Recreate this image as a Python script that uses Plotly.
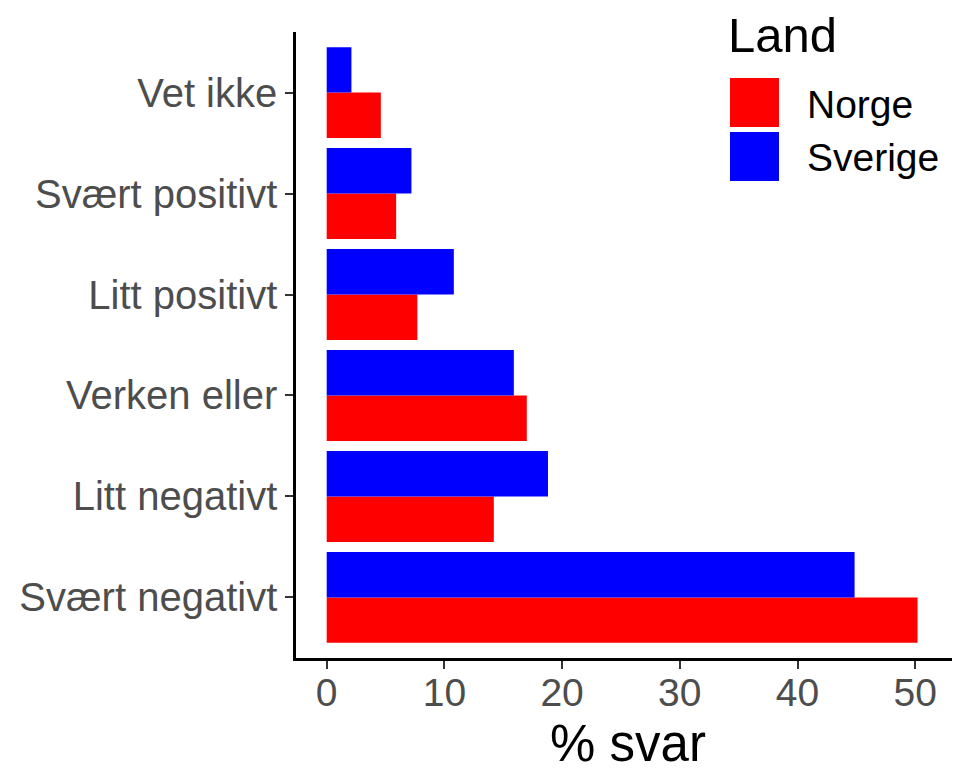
import plotly.graph_objects as go

categories = ["Svært negativt", "Litt negativt", "Verken eller",
              "Litt positivt", "Svært positivt", "Vet ikke"]
norge = [50.2, 14.2, 17.0, 7.7, 5.9, 4.6]
sverige = [44.85, 18.8, 15.9, 10.8, 7.2, 2.1]
x_ticks = [0, 10, 20, 30, 40, 50]
series_names = ["Norge", "Sverige"]
series_colors = ["#FF0000", "#0000FF"]

FONT = "Liberation Sans, Arial, sans-serif"

# page offset of the figure (default body margin)
OFF = 8
# plot area in page pixels
L, R, T, B = 296, 960, 32, 658
W, H = R - L, B - T
FIG_W, FIG_H = 960 - OFF, 772 - OFF
X0_PX, PX_PER_UNIT = 326.7, 11.77
X_RANGE = [(L - X0_PX) / PX_PER_UNIT, (R - X0_PX) / PX_PER_UNIT]


def px_x(p):
    return (p - L) / W


def px_y(p):
    return (B - p) / H


fig = go.Figure()
for name, vals, col in zip(series_names, [norge, sverige], series_colors):
    fig.add_trace(go.Bar(y=categories, x=vals, name=name, orientation="h",
                         marker=dict(color=col, line=dict(width=0)),
                         showlegend=False))

# manual legend (ggplot-style large keys)
shapes = []
annotations = [dict(text="Land", x=px_x(726), y=px_y(35), xref="paper", yref="paper",
                    xanchor="left", yanchor="middle", showarrow=False,
                    font=dict(size=49, color="black", family=FONT))]
key_tops = [78, 132]
for name, col, top in zip(series_names, series_colors, key_tops):
    shapes.append(dict(type="rect", xref="paper", yref="paper",
                       x0=px_x(730), x1=px_x(779), y0=px_y(top), y1=px_y(top + 49),
                       fillcolor=col, line=dict(width=0)))
    annotations.append(dict(text=name, x=px_x(805), y=px_y(top + 26), xref="paper",
                            yref="paper", xanchor="left", yanchor="middle",
                            showarrow=False,
                            font=dict(size=39, color="black", family=FONT)))

fig.update_layout(
    width=FIG_W, height=FIG_H,
    barmode="group", bargap=0.1, bargroupgap=0,
    plot_bgcolor="white", paper_bgcolor="white",
    margin=dict(l=L - OFF, r=960 - R, t=T - OFF, b=772 - B, autoexpand=False),
    font=dict(family=FONT),
    showlegend=False,
    shapes=shapes,
    annotations=annotations,
    xaxis=dict(
        range=X_RANGE, tickvals=x_ticks, ticktext=[str(v) for v in x_ticks],
        showgrid=False, zeroline=False, automargin=False,
        showline=True, linecolor="black", linewidth=2.5,
        ticks="outside", ticklen=8, tickwidth=2, tickcolor="#333333",
        tickfont=dict(size=39, color="#4d4d4d"),
        ticklabelstandoff=-10,
        title=dict(text="% svar", font=dict(size=51, color="black"), standoff=24),
    ),
    yaxis=dict(
        categoryorder="array", categoryarray=categories,
        range=[-0.6, 5.6], automargin=False,
        showgrid=False, zeroline=False,
        showline=True, linecolor="black", linewidth=2.5,
        ticks="outside", ticklen=8, tickwidth=2, tickcolor="#333333",
        tickfont=dict(size=40, color="#4d4d4d"),
    ),
)

fig.write_html("out.html")
